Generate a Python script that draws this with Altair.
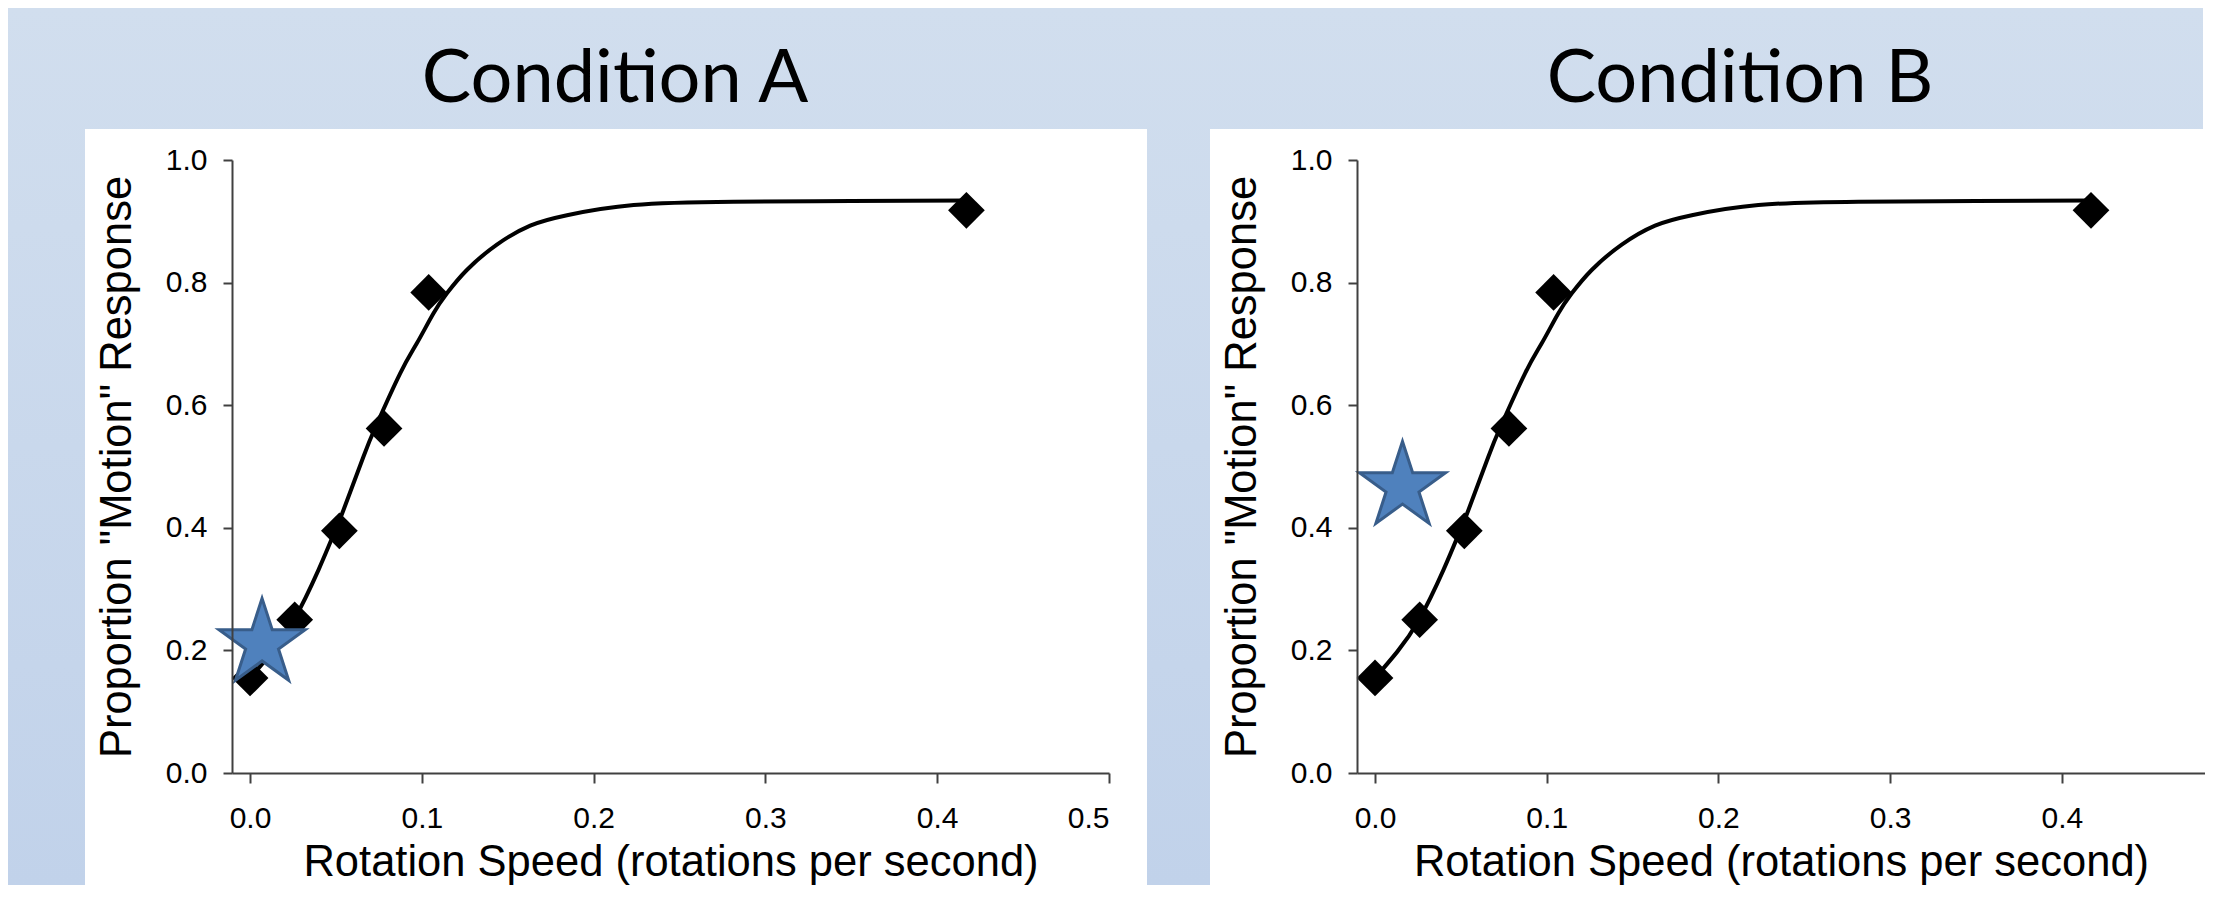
import altair as alt
import pandas as pd

conditions = ["Condition A", "Condition B"]

# measured points (diamonds)
speed = [0.0, 0.026, 0.052, 0.078, 0.104, 0.417]
proportion = [0.155, 0.250, 0.395, 0.562, 0.784, 0.918]

# fitted curve
fit_speed = [0.0, 0.013, 0.0256, 0.0398, 0.0495, 0.0544, 0.066, 0.0733, 0.0874,
             0.0971, 0.1068, 0.1146, 0.1262, 0.1437, 0.1631, 0.1845, 0.2233,
             0.2815, 0.35, 0.417]
fit_proportion = [0.155, 0.198, 0.250, 0.331, 0.395, 0.429, 0.516, 0.566, 0.652,
                  0.701, 0.750, 0.7825, 0.8206, 0.862, 0.893, 0.910, 0.9266,
                  0.932, 0.933, 0.934]

# star markers (one per condition)
star_speed = [0.007, 0.016]
star_proportion = [0.211, 0.467]

x_ticks = [0.0, 0.1, 0.2, 0.3, 0.4, 0.5]
y_ticks = [0.0, 0.2, 0.4, 0.6, 0.8, 1.0]
x_max = [0.5, 0.4834]

x_title = "Rotation Speed (rotations per second)"
y_title = 'Proportion "Motion" Response'

H = 613
WIDTHS = [877, 848]
STAR = ("M0,-1L0.2245,-0.309L0.9511,-0.309L0.3633,0.118L0.5878,0.809L0,0.382"
        "L-0.5878,0.809L-0.3633,0.118L-0.9511,-0.309L-0.2245,-0.309Z")


def panel(i):
    pts = pd.DataFrame({"speed": speed, "proportion": proportion})
    fit = pd.DataFrame({"speed": fit_speed, "proportion": fit_proportion})
    star = pd.DataFrame({"speed": [star_speed[i]], "proportion": [star_proportion[i]]})
    lab = pd.DataFrame({"label": [conditions[i]]})
    one = pd.DataFrame({"k": [0]})
    W = WIDTHS[i]

    xsc = alt.Scale(domain=[-0.0105, x_max[i]], nice=False, zero=False)
    ysc = alt.Scale(domain=[0, 1], nice=False, zero=False)
    xax = alt.Axis(values=[v for v in x_ticks if v <= x_max[i]], format=".1f",
                   title=x_title, tickSize=10, labelPadding=20, titlePadding=8,
                   zindex=2)
    yax = alt.Axis(values=y_ticks, format=".1f", title=y_title, tickSize=9,
                   labelPadding=16, titlePadding=26, zindex=2)

    layers = []
    if i == 0:
        bg = alt.Chart(one).mark_rect(
            fill=alt.Gradient(gradient="linear", x1=0, y1=0, x2=0, y2=1,
                              stops=[alt.GradientStop(color="#D1DEEE", offset=0),
                                     alt.GradientStop(color="#C1D2EA", offset=1)])
        ).encode(x=alt.value(-224), x2=alt.value(1971), y=alt.value(-152), y2=alt.value(725))
        layers.append(bg)
    white = alt.Chart(one).mark_rect(color="white").encode(
        x=alt.value(-147), x2=alt.value(915 if i == 0 else W),
        y=alt.value(-31), y2=alt.value(725))
    layers.append(white)

    head = alt.Chart(lab).mark_text(font="Lato", fontSize=74, baseline="alphabetic",
                                    align="center", color="black").encode(
        x=alt.value(383), y=alt.value(-58), text="label:N")
    layers.append(head)

    line = alt.Chart(fit).mark_line(color="black", strokeWidth=4, interpolate="natural").encode(
        x=alt.X("speed:Q", scale=xsc, axis=xax),
        y=alt.Y("proportion:Q", scale=ysc, axis=yax))
    dia = alt.Chart(pts).mark_point(shape="diamond", filled=True, color="black",
                                    size=1350, opacity=1).encode(
        x=alt.X("speed:Q", scale=xsc), y=alt.Y("proportion:Q", scale=ysc))
    st = alt.Chart(star).mark_point(shape=STAR, fill="#4F81BD", fillOpacity=1,
                                    stroke="#385D8A", strokeWidth=3, size=8200,
                                    opacity=1).encode(
        x=alt.X("speed:Q", scale=xsc), y=alt.Y("proportion:Q", scale=ysc))
    layers += [line, dia, st]

    return alt.layer(*layers).properties(width=W, height=H)


chart = alt.hconcat(panel(0), panel(1), spacing=248, bounds="flush").properties(
    padding=0
).configure_axis(
    domainColor="#404040", domainWidth=2, tickColor="#404040", tickWidth=2,
    grid=False, labelFont="Liberation Sans", labelFontSize=30, labelColor="black",
    titleFont="Liberation Sans", titleFontSize=43.5, titleFontWeight="normal",
    titleColor="black"
).configure_view(strokeWidth=0)

chart.save("out.html", embed_options={"renderer": "svg", "actions": False})
